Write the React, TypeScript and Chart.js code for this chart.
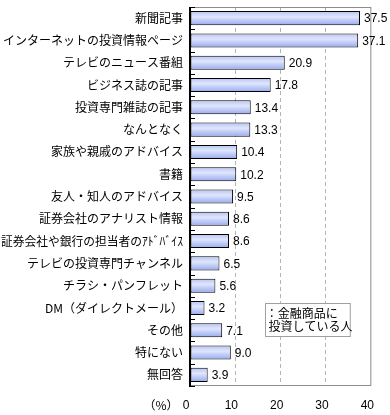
import React, { useEffect, useRef } from "react";
import { Chart, registerables } from "chart.js";

Chart.register(...registerables);

const categories = [
  "新聞記事",
  "インターネットの投資情報ページ",
  "テレビのニュース番組",
  "ビジネス誌の記事",
  "投資専門雑誌の記事",
  "なんとなく",
  "家族や親戚のアドバイス",
  "書籍",
  "友人・知人のアドバイス",
  "証券会社のアナリスト情報",
  "証券会社や銀行の担当者のｱﾄﾞﾊﾞｲｽ",
  "テレビの投資専門チャンネル",
  "チラシ・パンフレット",
  "DM（ダイレクトメール）",
  "その他",
  "特にない",
  "無回答",
];
const values = [37.5, 37.1, 20.9, 17.8, 13.4, 13.3, 10.4, 10.2, 9.5, 8.6, 8.6, 6.5, 5.6, 3.2, 7.1, 9.0, 3.9];
const xTicks = [0, 10, 20, 30, 40];
const legendLines = ["：金融商品に", " 投資している人"];
const unitLabel = "（%）";

const JP = '"Noto Sans CJK JP", sans-serif';
const NUM = '"Liberation Sans", Arial, sans-serif';

const overlay = {
  id: "overlay",
  afterDatasetsDraw(chart: any) {
    const { ctx, chartArea, scales } = chart;
    const xs = scales.x;
    const ys = scales.y;
    const { left, right, top, bottom } = chartArea;
    ctx.save();
    // frame
    ctx.strokeStyle = "#8c8c8c";
    ctx.lineWidth = 1;
    ctx.strokeRect(left + 0.5, top + 0.5, right - left - 1, bottom - top - 1);
    // left axis
    ctx.strokeStyle = "#000";
    ctx.lineWidth = 2;
    ctx.beginPath();
    ctx.moveTo(left, top);
    ctx.lineTo(left, bottom + 1);
    ctx.stroke();
    // small category ticks
    ctx.lineWidth = 1;
    const n = categories.length;
    const step = (bottom - top) / n;
    ctx.beginPath();
    for (let i = 0; i <= n; i++) {
      const y = Math.round(top + i * step) + 0.5;
      ctx.moveTo(left, y);
      ctx.lineTo(left + 5, y);
    }
    ctx.stroke();
    // category labels
    ctx.fillStyle = "#000";
    ctx.font = "12px " + JP;
    ctx.textAlign = "right";
    ctx.textBaseline = "middle";
    categories.forEach((c, i) => {
      ctx.fillText(c, left - 7, ys.getPixelForValue(i), left - 8);
    });
    // value labels
    ctx.font = "12px " + NUM;
    ctx.textAlign = "left";
    values.forEach((v, i) => {
      ctx.fillText(v.toFixed(1), xs.getPixelForValue(v) + 4, ys.getPixelForValue(i) + 1);
    });
    // unit label
    ctx.font = "12px " + JP;
    ctx.textAlign = "center";
    ctx.fillText(unitLabel, left - 29, bottom + 19);
    // legend box
    const bx = xs.getPixelForValue(16.5);
    const bw = xs.getPixelForValue(35.2) - bx;
    const by = top + (bottom - top) * 0.781;
    const bh = 33;
    ctx.fillStyle = "#fff";
    ctx.fillRect(bx, by, bw, bh);
    ctx.strokeStyle = "#a0a0a0";
    ctx.lineWidth = 1;
    ctx.strokeRect(Math.round(bx) + 0.5, Math.round(by) + 0.5, bw, bh);
    ctx.fillStyle = "#000";
    ctx.textAlign = "left";
    ctx.font = "12px " + JP;
    legendLines.forEach((t, i) => {
      ctx.fillText(t, bx + 1, by + 10 + i * 13.5);
    });
    ctx.restore();
  },
};

export default function App() {
  const ref = useRef<HTMLCanvasElement | null>(null);
  useEffect(() => {
    document.body.style.margin = "0";
    const canvas = ref.current!;
    const chart = new Chart(canvas, {
      type: "bar",
      data: {
        labels: categories,
        datasets: [
          {
            data: values,
            backgroundColor: (c: any) => {
              const ch = c.chart;
              const ys = ch.scales && ch.scales.y;
              if (!ys || c.dataIndex === undefined) return "#c8d4f8";
              const yc = ys.getPixelForValue(c.dataIndex);
              if (!Number.isFinite(yc)) return "#c8d4f8";
              const g = ch.ctx.createLinearGradient(0, yc - 7, 0, yc + 7);
              g.addColorStop(0, "#b6c4f2");
              g.addColorStop(0.4, "#dfe6fd");
              g.addColorStop(1, "#97a9ee");
              return g;
            },
            borderColor: "#000",
            borderWidth: 1,
            borderSkipped: false,
            barPercentage: 0.63,
            categoryPercentage: 1,
          },
        ],
      },
      options: {
        indexAxis: "y",
        responsive: false,
        animation: false,
        devicePixelRatio: 1,
        layout: { padding: { top: 7, right: 18, left: 0, bottom: 0 } },
        plugins: { legend: { display: false }, tooltip: { enabled: false } },
        scales: {
          x: {
            min: xTicks[0],
            max: xTicks[xTicks.length - 1],
            afterBuildTicks: (s: any) => {
              s.ticks = xTicks.map((v) => ({ value: v }));
            },
            afterFit: (s: any) => {
              s.height = 29;
            },
            ticks: {
              color: "#000",
              font: { size: 12, family: NUM },
              padding: 12,
              labelOffset: -4,
            },
            grid: {
              drawTicks: false,
              color: (c: any) =>
                c.tick && c.tick.value > xTicks[0] && c.tick.value < xTicks[xTicks.length - 1]
                  ? "#b4b4b4"
                  : "rgba(0,0,0,0)",
              lineWidth: 1,
            },
            border: { display: false, dash: [4, 3] },
          },
          y: {
            type: "category",
            afterFit: (s: any) => {
              s.width = 190;
            },
            ticks: { display: false },
            grid: { display: false },
            border: { display: false },
          },
        },
      },
      plugins: [overlay],
    } as any);
    return () => chart.destroy();
  }, []);
  return (
    <div style={{ width: 390, height: 415 }}>
      <canvas ref={ref} width={390} height={415} style={{ display: "block" }} />
    </div>
  );
}
